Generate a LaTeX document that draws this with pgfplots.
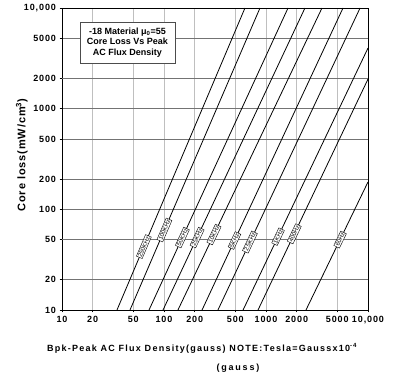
\documentclass[border=0pt]{standalone}
\usepackage{fontspec}
\setmainfont{Liberation Sans}
\usepackage{pgfplots}
\pgfplotsset{compat=1.18}
\tikzset{lbl/.style={sloped, draw, fill=white, inner sep=1pt, line width=0.4pt, font=\fontsize{6}{6}\selectfont}}
\pgfplotsset{ln/.style={black, solid, mark=none, line width=0.8pt}}
\newcommand{\tfont}{\bfseries\fontsize{9}{10}\selectfont\addfontfeature{LetterSpace=10}}
\begin{document}
\begin{tikzpicture}
\begin{axis}[
  scale only axis, width=306pt, height=302pt,
  xmode=log, ymode=log,
  xmin=10, xmax=10000, ymin=10, ymax=10000,
  xtick={10,20,50,100,200,500,1000,2000,5000,10000},
  xticklabels={10,20,50,100,200,500,1000,2000,5000,{10,000}},
  ytick={10,20,100,200,500,1000,5000,10000},
  yticklabels={10,20,100,200,500,1000,5000,{10,000}},
  extra y ticks={50,2000},
  extra y tick labels={50,2000},
  extra y tick style={grid style={black!85, line width=0.7pt}},
  xminorticks=false, yminorticks=false,
  xtick pos=left, ytick pos=left,
  tick align=outside, major tick length=2.5pt,
  tick style={black, line width=0.6pt},
  grid=major,
  x grid style={black!25, line width=0.6pt},
  y grid style={black!55, line width=0.6pt},
  axis line style={line width=0.9pt},
  ticklabel style={font=\tfont},
  xlabel={Bpk-Peak AC Flux Density(gauss) NOTE:Tesla=Gaussx10\textsuperscript{-4}},
  xlabel style={font=\bfseries\fontsize{9}{10}\selectfont\addfontfeature{LetterSpace=14}, at={(axis description cs:0.4575,-0.126)}, anchor=center},
  ylabel={Core loss(mW/cm\textsuperscript{3})},
  ylabel style={font=\bfseries\fontsize{11}{12}\selectfont\addfontfeature{LetterSpace=8}, at={(axis description cs:-0.131,0.513)}, anchor=center},
  clip=false,
]
\addplot[ln] coordinates {(34.6,10) (622,10000)} node[lbl, pos=0.21] {250KHz};
\addplot[ln] coordinates {(46.4,10) (873,10000)} node[lbl, pos=0.265] {100KHz};
\addplot[ln] coordinates {(71.3,10) (1644,10000)} node[lbl, pos=0.24] {50KHz};
\addplot[ln] coordinates {(97.8,10) (2410,10000)} node[lbl, pos=0.24] {25KHz};
\addplot[ln] coordinates {(137,10) (3540,10000)} node[lbl, pos=0.25] {10KHz};
\addplot[ln] coordinates {(236,10) (5690,10000)} node[lbl, pos=0.23] {5KHz};
\addplot[ln] coordinates {(338,10) (8360,10000)} node[lbl, pos=0.225] {2.5KHz};
\addplot[ln] coordinates {(596,10) (10000,4000)} node[lbl, pos=0.28] {1KHz};
\addplot[ln] coordinates {(835,10) (10000,1968)} node[lbl, pos=0.33] {400Hz};
\addplot[ln] coordinates {(2466,10) (10000,187)} node[lbl, pos=0.55] {60Hz};
\node[draw=black!70, fill=white, align=center, line width=0.6pt,
      font=\bfseries\fontsize{9}{10.5}\selectfont, minimum width=95pt, minimum height=41pt, inner sep=2pt]
  at (axis description cs:0.214,0.886) {-18 Material μ\textsubscript{0}=55\\Core Loss Vs Peak\\AC Flux Density};
\node[font=\bfseries\fontsize{9}{10}\selectfont\addfontfeature{LetterSpace=20}]
  at (axis description cs:0.575,-0.192) {(gauss)};
\end{axis}
\path ([shift={(-62pt,-64pt)}]current axis.south west) rectangle ([shift={(26pt,8pt)}]current axis.north east);
\end{tikzpicture}
\end{document}
